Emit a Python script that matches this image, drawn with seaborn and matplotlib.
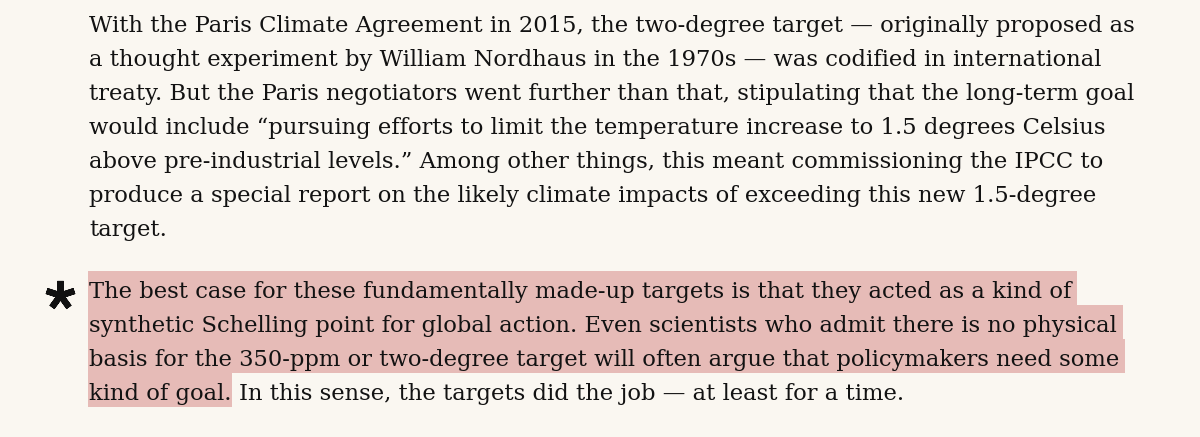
import matplotlib
matplotlib.use("Agg")
import matplotlib.pyplot as plt
import seaborn as sns
from matplotlib.patches import Rectangle

# ---- content ----
para1_lines = [
    "With the Paris Climate Agreement in 2015, the two-degree target \u2014 originally proposed as",
    "a thought experiment by William Nordhaus in the 1970s \u2014 was codified in international",
    "treaty. But the Paris negotiators went further than that, stipulating that the long-term goal",
    "would include \u201cpursuing efforts to limit the temperature increase to 1.5 degrees Celsius",
    "above pre-industrial levels.\u201d Among other things, this meant commissioning the IPCC to",
    "produce a special report on the likely climate impacts of exceeding this new 1.5-degree",
    "target.",
]
para1_right_edges = [1133, 1105, 1140, 1100, 1110, 1087, None]

para2_highlighted = [
    "The best case for these fundamentally made-up targets is that they acted as a kind of",
    "synthetic Schelling point for global action. Even scientists who admit there is no physical",
    "basis for the 350-ppm or two-degree target will often argue that policymakers need some",
    "kind of goal.",
]
para2_plain = ["", "", "", "In this sense, the targets did the job \u2014 at least for a time."]
para2_right_edges = [1068, 1122, 1122, 228]

# ---- style ----
BG = "#faf7f1"
INK = "#121212"
HILITE = "#e6bbb7"
FAMILY = "DejaVu Serif"
LEFT = 89
P1_BASE, P2_BASE, STEP = 32, 298, 34

sns.set_theme(style="white", rc={"figure.facecolor": BG, "axes.facecolor": BG})
plt.rcParams["font.family"] = [FAMILY, "DejaVu Sans"]

fig = plt.figure(figsize=(12, 4.37), dpi=100)
ax = fig.add_axes([0, 0, 1, 1])
ax.set_xlim(0, 1200)
ax.set_ylim(437, 0)
ax.axis("off")
renderer = fig.canvas.get_renderer()


def width_of(s, size):
    t = ax.text(0, 0, s, fontsize=size, family=[FAMILY, "DejaVu Sans"])
    w = t.get_window_extent(renderer).width
    t.remove()
    return w

# fit font size to the measured line widths of the reference
base = 20.0
pairs = [(l, r) for l, r in zip(para1_lines, para1_right_edges) if r] + \
        [(l, r) for l, r in zip(para2_highlighted, para2_right_edges)]
meas = sum(width_of(l, base) for l, _ in pairs)
targ = sum(r - LEFT for _, r in pairs)
FS = base * targ / meas

# paragraph 1
for i, line in enumerate(para1_lines):
    ax.text(LEFT, P1_BASE + i * STEP, line, fontsize=FS, color=INK,
            va="baseline", ha="left", zorder=3)

# paragraph 2 with highlight
space_w = width_of("a a", FS) - width_of("aa", FS)
for i, (hl, plain) in enumerate(zip(para2_highlighted, para2_plain)):
    y = P2_BASE + i * STEP
    t = ax.text(LEFT, y, hl, fontsize=FS, color=INK, va="baseline",
                ha="left", zorder=3)
    w = t.get_window_extent(renderer).width
    pad = 6 if plain == "" else 0
    ax.add_patch(Rectangle((LEFT - 1, y - 27), w + pad + 1, 34,
                           facecolor=HILITE, edgecolor="none", zorder=1))
    if plain:
        ax.text(LEFT + w + space_w, y, plain, fontsize=FS, color=INK,
                va="baseline", ha="left", zorder=3)

# hand-drawn style asterisk marker beside the highlighted paragraph
ax.plot([60], [295], marker=(5, 2, 0), markersize=21, markeredgewidth=4.5,
        color="#111111", zorder=3, solid_capstyle="round")

fig.savefig("out.png", dpi=100, facecolor=BG)
